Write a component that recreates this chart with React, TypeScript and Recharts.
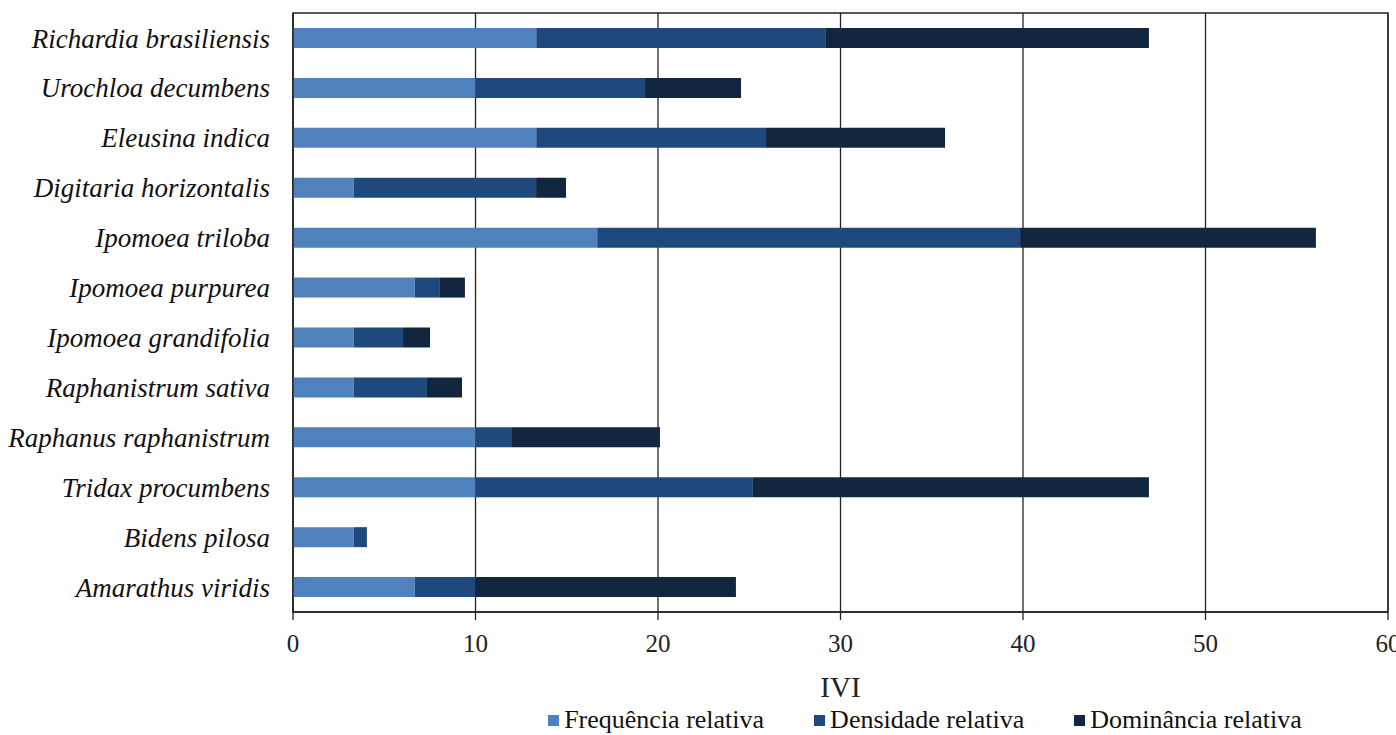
import { BarChart, Bar, XAxis, YAxis, CartesianGrid, Legend, ReferenceArea } from 'recharts';

const species = [
  'Richardia brasiliensis',
  'Urochloa decumbens',
  'Eleusina indica',
  'Digitaria horizontalis',
  'Ipomoea triloba',
  'Ipomoea purpurea',
  'Ipomoea grandifolia',
  'Raphanistrum sativa',
  'Raphanus raphanistrum',
  'Tridax procumbens',
  'Bidens pilosa',
  'Amarathus viridis',
];
const frequencia = [13.33, 10, 13.33, 3.33, 16.67, 6.67, 3.33, 3.33, 10, 10, 3.33, 6.67];
const densidade = [15.87, 9.29, 12.59, 9.99, 23.17, 1.38, 2.7, 4.01, 2.0, 15.2, 0.72, 3.33];
const dominancia = [17.7, 5.26, 9.81, 1.64, 16.21, 1.37, 1.48, 1.92, 8.11, 21.7, 0, 14.27];
const xTicks = [0, 10, 20, 30, 40, 50, 60];

const series = [
  { key: 'freq', label: 'Frequência relativa', color: '#4F81BD' },
  { key: 'dens', label: 'Densidade relativa', color: '#1F497D' },
  { key: 'dom', label: 'Dominância relativa', color: '#13263F' },
];

const data = species.map((name, i) => ({
  name,
  freq: frequencia[i],
  dens: densidade[i],
  dom: dominancia[i],
}));

const FONT = '"Liberation Serif", "Times New Roman", serif';

const LegendContent = () => (
  <div
    style={{
      height: 28,
      display: 'flex',
      justifyContent: 'center',
      alignItems: 'flex-start',
      fontFamily: FONT,
      fontSize: 26,
      color: '#111',
      paddingLeft: 462,
      gap: 50,
    }}
  >
    {series.map((s) => (
      <div key={s.key} style={{ display: 'flex', alignItems: 'center', lineHeight: '26px' }}>
        <span style={{ width: 11, height: 11, background: s.color, marginRight: 5, display: 'inline-block' }} />
        <span>{s.label}</span>
      </div>
    ))}
  </div>
);

export default function App() {
  return (
    <div style={{ position: 'absolute', left: 0, top: 0, width: 1396, height: 735, overflow: 'hidden', background: '#fff', fontFamily: FONT }}>
      <BarChart
        width={1396}
        height={735}
        data={data}
        layout="vertical"
        margin={{ top: 13, right: 8, left: 0, bottom: 0 }}
      >
        <CartesianGrid horizontal={false} stroke="#222" strokeWidth={1.3} />
        <ReferenceArea x1={0} x2={60} fill="none" stroke="#222" strokeWidth={1.3} ifOverflow="visible" />
        <XAxis
          type="number"
          domain={[0, 60]}
          ticks={xTicks}
          interval={0}
          height={95}
          tickSize={8}
          tickMargin={14}
          stroke="#222"
          strokeWidth={1.3}
          tick={{ fill: '#222', fontSize: 25, fontFamily: FONT }}
          label={{ value: 'IVI', position: 'insideBottom', offset: 10, fill: '#222', fontSize: 29, fontFamily: FONT }}
        />
        <YAxis
          type="category"
          dataKey="name"
          width={293}
          tickLine={false}
          tickSize={0}
          tickMargin={23}
          interval={0}
          stroke="#222"
          strokeWidth={1.3}
          tick={{ fill: '#111', fontSize: 27, fontFamily: FONT, fontStyle: 'italic' }}
        />
        <Legend verticalAlign="bottom" content={<LegendContent />} />
        {series.map((s) => (
          <Bar key={s.key} dataKey={s.key} name={s.label} stackId="a" fill={s.color} barSize={20} isAnimationActive={false} />
        ))}
      </BarChart>
    </div>
  );
}
